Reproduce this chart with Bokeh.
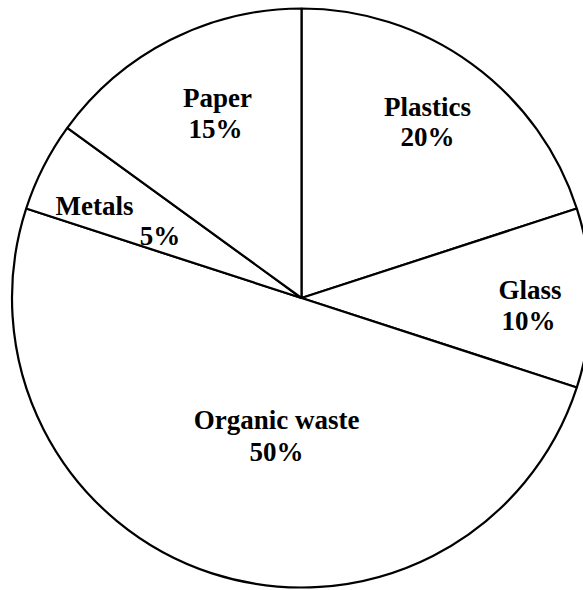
import math
from bokeh.plotting import figure
from bokeh.models import Range1d, ColumnDataSource
from bokeh.core.properties import value
from bokeh.embed import file_html
from bokeh.resources import INLINE

categories = ["Plastics", "Glass", "Organic waste", "Metals", "Paper"]
shares = [20, 10, 50, 5, 15]

# layout (screen pixels)
CX, CY, R = 301, 297.5, 289.5
W, H = 583, 590

total = sum(shares)
starts, ends = [], []
a = math.pi / 2
for s in shares:
    starts.append(a)
    a -= 2 * math.pi * s / total
    ends.append(a)

p = figure(width=W, height=H, output_backend="svg", toolbar_location=None,
           x_range=Range1d(0, W), y_range=Range1d(-H, 0),
           min_border=0, outline_line_color=None)
p.axis.visible = False
p.grid.visible = False
p.background_fill_color = "white"
p.border_fill_color = "white"

src = ColumnDataSource(dict(start=starts, end=ends))
p.wedge(x=CX, y=-CY, radius=R, start_angle="start", end_angle="end",
        direction="clock", fill_color="white", line_color="black",
        line_width=2.2, source=src)

# label positions (screen pixels): name line, value line
name_pos = {"Plastics": (427, 106.5), "Glass": (529.5, 289), "Organic waste": (276, 419),
            "Metals": (94, 205), "Paper": (217, 97)}
val_pos = {"Plastics": (427, 136.5), "Glass": (528, 320), "Organic waste": (276, 451),
           "Metals": (159.5, 235.5), "Paper": (215, 128)}

lx, ly, lt = [], [], []
for c, s in zip(categories, shares):
    x, y = name_pos[c]
    lx.append(x); ly.append(-y); lt.append(c)
    x, y = val_pos[c]
    lx.append(x); ly.append(-y); lt.append(f"{s}%")

p.text(x=lx, y=ly, text=lt, text_font=value("Liberation Serif"),
       text_font_style="bold", text_font_size="27px", text_color="black",
       text_align="center", text_baseline="middle")

open("out.html", "w").write(file_html(p, INLINE))
